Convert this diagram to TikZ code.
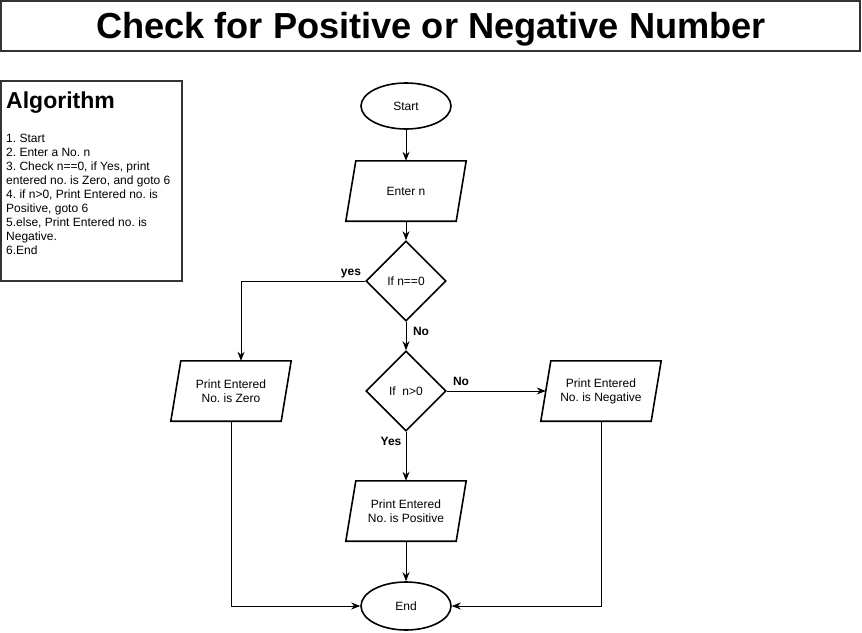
\documentclass[tikz,border=0pt]{standalone}
\usepackage{fontspec}
\setmainfont{Liberation Sans}
\usetikzlibrary{shapes.geometric,arrows.meta}
\frenchspacing
\begin{document}
\begin{tikzpicture}[x=1pt,y=-1pt,
  shp/.style={draw=black,line width=1.6pt,fill=white,font=\fontsize{12}{14}\selectfont},
  term/.style={shp,ellipse,minimum width=90pt,minimum height=46pt,inner sep=0pt},
  dec/.style={shp,diamond,minimum width=80pt,minimum height=80pt,inner sep=0pt},
  pbox/.style={draw=none,minimum width=110pt,minimum height=60pt,inner sep=0pt,align=center,font=\fontsize{12}{14}\selectfont},
  para/.style={draw=black,line width=1.6pt},
  conn/.style={draw=black,line width=1pt,-{Stealth[length=9pt,width=7pt]}},
  lbl/.style={font=\bfseries\fontsize{12}{14}\selectfont,inner sep=0pt,anchor=base}
]
\useasboundingbox (0,0) rectangle (862,632);
% title
\node[draw=black!80,line width=1.6pt,minimum width=859pt,minimum height=50pt,inner sep=0pt] (titlebox) at (430.5,26) {};
\node[anchor=base,inner sep=0pt,font=\bfseries\fontsize{36.2}{40}\selectfont] (title) at (431,38) {Check for Positive or Negative Number};
% algorithm box
\node[draw=black!80,line width=1.6pt,minimum width=181pt,minimum height=200pt,inner sep=0pt] (algbox) at (91.5,181) {};
\node[anchor=base west,inner sep=0pt,font=\bfseries\fontsize{23}{26}\selectfont] (algtitle) at (6,108.5) {Algorithm};
\node[anchor=north west,inner sep=0pt,align=left,font=\fontsize{12}{14}\selectfont] (algtext) at (6,134)
{1. Start\\2. Enter a No. n\\3. Check n==0, if Yes, print\\entered no. is Zero, and goto 6\\4. if n>0, Print Entered no. is\\Positive, goto 6\\5.else, Print Entered no. is\\Negative.\\6.End};
% flow nodes
\node[term] (start) at (406,106) {Start};
\node[pbox] (enter) at (406,191) {Enter n};
\node[dec] (d1) at (406,281) {If n==0};
\node[dec] (d2) at (406,391) {If~~n>0};
\node[pbox] (zero) at (231,391) {Print Entered\\No. is Zero};
\node[pbox] (neg) at (601,391) {Print Entered\\No. is Negative};
\node[pbox] (pos) at (406,511) {Print Entered\\No. is Positive};
\node[term,minimum height=48pt] (end) at (406,606) {End};
% parallelogram outlines
\foreach \n in {enter,zero,neg,pos}{
  \draw[para] ([xshift=5pt]\n.north west) -- ([xshift=5pt]\n.north east) -- ([xshift=-5pt]\n.south east) -- ([xshift=-5pt]\n.south west) -- cycle;
}
% connectors
\draw[conn] (start) -- (enter);
\draw[conn] (enter) -- (d1);
\coordinate (zt) at ([xshift=10pt]zero.north);
\draw[conn] (d1.west) -| (zt);
\draw[conn] (d1) -- (d2);
\draw[conn] (d2.east) -- (neg.west);
\draw[conn] (d2) -- (pos);
\draw[conn] (pos) -- (end);
\draw[conn] (zero.south) |- (end.west);
\draw[conn] (neg.south) |- (end.east);
% labels
\node[lbl] (lyes) at (351,275.5) {yes};
\node[lbl] (lno1) at (421,335) {No};
\node[lbl] (lno2) at (461,385.5) {No};
\node[lbl] (lyes2) at (391,445.5) {Yes};
\end{tikzpicture}
\end{document}
